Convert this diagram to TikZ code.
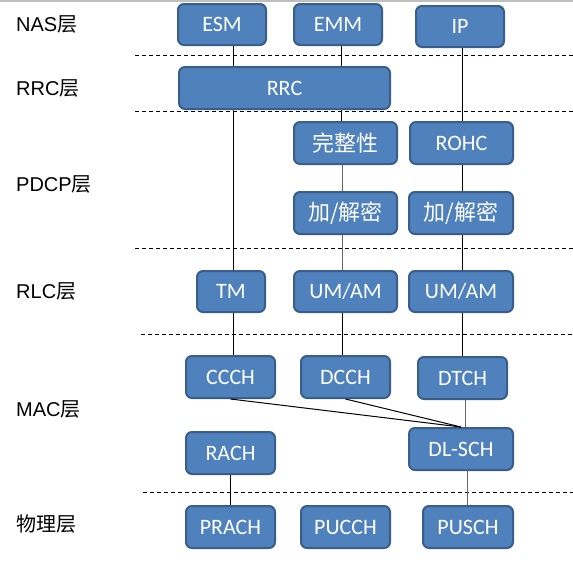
\documentclass[tikz,border=0pt]{standalone}
\usepackage{fontspec}
\setmainfont{Liberation Sans}
\newfontfamily\boxfont{Carlito}
\newfontfamily\cjk{Noto Sans CJK SC}
\definecolor{boxfill}{HTML}{4F81BD}
\definecolor{boxline}{HTML}{3A5E8C}
\tikzset{
  box/.style={draw=boxline, fill=boxfill, line width=2pt, rounded corners=6pt,
    text=white, inner sep=0pt, font=\boxfont\fontsize{22}{26}\selectfont},
  conn/.style={line width=1pt, black},
  gconn/.style={line width=1pt, black!60},
  sep/.style={line width=1pt, dash pattern=on 4pt off 3pt},
  lab/.style={anchor=west, inner sep=0pt, font=\fontsize{20}{24}\selectfont}
}
\begin{document}
\begin{tikzpicture}[x=1pt,y=-1pt]
\useasboundingbox (0,0) rectangle (573,566);
\draw[black!25, line width=1.5pt] (0,0.75) -- (573,0.75);
% separators
\draw[sep] (135,55) -- (573,55);
\draw[sep] (135,111) -- (573,111);
\draw[sep] (135,248) -- (573,248);
\draw[sep] (141,334) -- (573,334);
\draw[sep] (143,492) -- (573,492);
% labels
\node[lab] (l1) at (16,24) {NAS{\cjk 层}};
\node[lab] (l2) at (16,88) {RRC{\cjk 层}};
\node[lab] (l3) at (16,184) {PDCP{\cjk 层}};
\node[lab] (l4) at (16,291) {RLC{\cjk 层}};
\node[lab] (l5) at (16,409) {MAC{\cjk 层}};
\node[lab] (l6) at (16,524) {\cjk 物理层};
% column coordinates
\coordinate (c1) at (233,0);
\coordinate (c2) at (341,0);
\coordinate (c2b) at (342,0);
\coordinate (c3) at (462,0);
\coordinate (c4) at (465,0);
\coordinate (c5) at (467,0);
% boxes
\node[box, minimum width=88pt, minimum height=41pt] (esm) at (222,24.5) {ESM};
\node[box, minimum width=88pt, minimum height=41pt] (emm) at (338,24.5) {EMM};
\node[box, minimum width=88pt, minimum height=41pt] (ip) at (460,26.5) {IP};
\node[box, minimum width=211pt, minimum height=42pt] (rrc) at (284.5,88) {RRC};
\node[box, minimum width=103pt, minimum height=42pt] (wzx) at (345.5,143) {\cjk 完整性};
\node[box, minimum width=103pt, minimum height=42pt] (rohc) at (461.5,143) {ROHC};
\node[box, minimum width=103pt, minimum height=42pt] (jm1) at (345.5,213) {\cjk 加/解密};
\node[box, minimum width=104pt, minimum height=42pt] (jm2) at (461,213) {\cjk 加/解密};
\node[box, minimum width=68pt, minimum height=41pt] (tm) at (231,291.5) {TM};
\node[box, minimum width=103pt, minimum height=41pt] (um1) at (345.5,291.5) {UM/AM};
\node[box, minimum width=104pt, minimum height=41pt] (um2) at (461,291.5) {UM/AM};
\node[box, minimum width=89pt, minimum height=42pt] (ccch) at (230.5,377) {CCCH};
\node[box, minimum width=89pt, minimum height=42pt] (dcch) at (345.5,377) {DCCH};
\node[box, minimum width=89pt, minimum height=42pt] (dtch) at (462.5,378) {DTCH};
\node[box, minimum width=89pt, minimum height=42pt] (rach) at (230.5,453) {RACH};
\node[box, minimum width=104pt, minimum height=42pt] (dlsch) at (461,449) {DL-SCH};
\node[box, minimum width=89pt, minimum height=42pt] (prach) at (230.5,527) {PRACH};
\node[box, minimum width=89pt, minimum height=42pt] (pucch) at (345.5,527) {PUCCH};
\node[box, minimum width=90pt, minimum height=42pt] (pusch) at (468,527) {PUSCH};
% connectors
\draw[conn] (esm.south -| c1) -- (rrc.north -| c1);
\draw[conn] (rrc.south -| c1) -- (tm.north -| c1);
\draw[conn] (tm.south -| c1) -- (ccch.north -| c1);
\draw[conn] (emm.south -| c2) -- (rrc.north -| c2);
\draw[conn] (rrc.south -| c2) -- (wzx.north -| c2);
\draw[gconn] (wzx.south -| c2b) -- (jm1.north -| c2b);
\draw[gconn] (jm1.south -| c2b) -- (um1.north -| c2b);
\draw[conn] (um1.south -| c2b) -- (dcch.north -| c2b);
\draw[conn] (ip.south -| c3) -- (rohc.north -| c3);
\draw[conn] (rohc.south -| c3) -- (jm2.north -| c3);
\draw[conn] (jm2.south -| c3) -- (um2.north -| c3);
\draw[conn] (um2.south -| c3) -- (dtch.north -| c3);
\draw[gconn] (dtch.south -| c4) -- (dlsch.north -| c4);
\draw[conn] (ccch.south) -- (dlsch.north);
\draw[conn] (dcch.south) -- (dlsch.north);
\draw[conn] (rach.south) -- (prach.north);
\draw[gconn] (dlsch.south -| c5) -- (pusch.north -| c5);
\end{tikzpicture}
\end{document}
